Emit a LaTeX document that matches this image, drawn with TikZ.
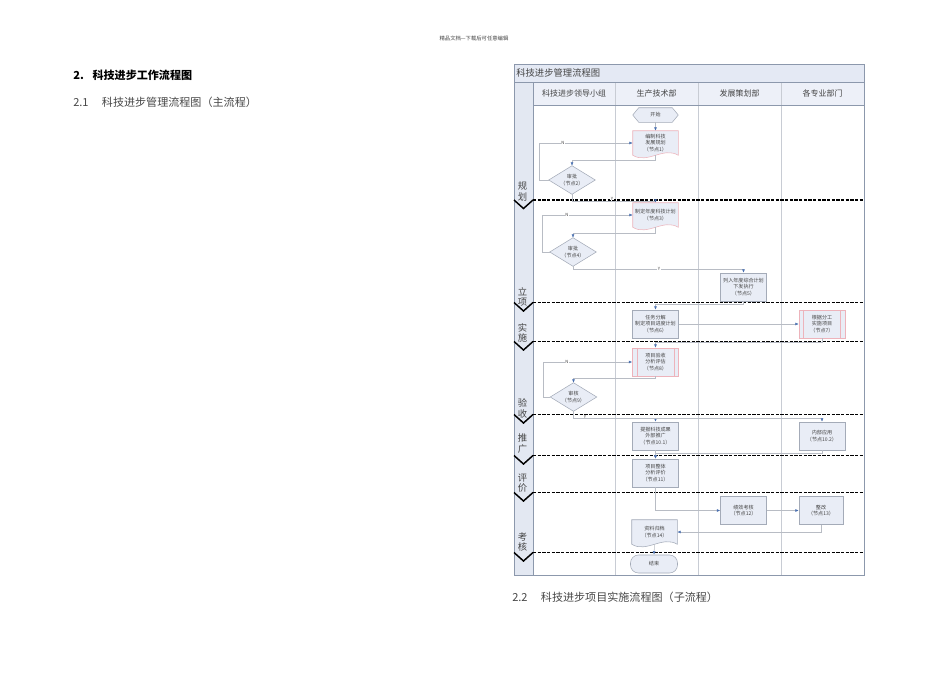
\documentclass[tikz,border=0pt]{standalone}
\usepackage{fontspec}
\setmainfont{Noto Sans CJK SC}
\usetikzlibrary{arrows.meta,calc}
\pgfdeclarelayer{bg}\pgfdeclarelayer{mid}
\pgfsetlayers{bg,mid,main}
\definecolor{framecol}{HTML}{8C98AC}
\definecolor{titlefill}{HTML}{E4E9F4}
\definecolor{headfill}{HTML}{EDF0F8}
\definecolor{lanefill}{HTML}{E3E8F2}
\definecolor{colline}{HTML}{C8CCD4}
\definecolor{nodefill}{HTML}{E9EDF6}
\definecolor{nodeline}{HTML}{A4ABB8}
\definecolor{pinkline}{HTML}{EDB3BB}
\definecolor{connline}{HTML}{B8BCC4}
\definecolor{tipblue}{HTML}{4A70B0}
\definecolor{txtgray}{HTML}{444444}
\tikzset{
 procbox/.style={draw=nodeline,fill=nodefill,line width=0.4pt,minimum width=34.5pt,minimum height=21pt,inner sep=0pt,align=center,font=\fontsize{3.8}{4.8}\selectfont,text=txtgray},
 shapebox/.style={draw=none,fill=none,minimum width=34.5pt,minimum height=21pt,inner sep=0pt,align=center,font=\fontsize{3.8}{4.8}\selectfont,text=txtgray},
 conn/.style={draw=connline,line width=0.4pt,-{Latex[length=2.6pt,width=2.2pt,color=tipblue]}},
 yn/.style={font=\fontsize{3.2}{3.5}\selectfont,text=txtgray,fill=white,inner sep=0.3pt},
 sepline/.style={line width=1.3pt,dash pattern=on 2.4pt off 1.1pt},
 chev/.style={line width=1.1pt},
 phase/.style={font=\fontsize{7}{8}\selectfont,text=txtgray,inner sep=0pt,align=center},
 colhead/.style={font=\fontsize{6}{7}\selectfont,text=txtgray,inner sep=0pt},
 outl/.style={fill=nodefill,line width=0.4pt},
}
\newcommand\docshape[2]{\begin{pgfonlayer}{mid}\filldraw[outl,draw=#2] (#1.north west) -- (#1.north east) -- (#1.south east) .. controls ($(#1.south east)+(-15,-9)$) and ($(#1.south west)+(15,9)$) .. (#1.south west) -- cycle;\end{pgfonlayer}}
\newcommand\hexshape[1]{\begin{pgfonlayer}{mid}\filldraw[outl,draw=nodeline] ($(#1.north west)+(6,0)$) -- ($(#1.north east)+(-6,0)$) -- (#1.east) -- ($(#1.south east)+(-6,0)$) -- ($(#1.south west)+(6,0)$) -- (#1.west) -- cycle;\end{pgfonlayer}}
\newcommand\diashape[1]{\begin{pgfonlayer}{mid}\filldraw[outl,draw=nodeline] (#1.north) -- (#1.east) -- (#1.south) -- (#1.west) -- cycle;\end{pgfonlayer}}
\newcommand\predlines[1]{\draw[pinkline,line width=0.4pt] ($(#1.north west)+(5,0)$) -- ($(#1.south west)+(5,0)$) ($(#1.north east)+(-5,0)$) -- ($(#1.south east)+(-5,0)$);}
\begin{document}
\begin{tikzpicture}[x=0.75pt,y=-0.75pt]
\useasboundingbox (0,0) rectangle (950,672);
\begin{pgfonlayer}{bg}
\fill[white] (0,0) rectangle (950,672);
\fill[titlefill] (514,64) rectangle (864,82);
\fill[headfill] (533,82) rectangle (864,105);
\fill[lanefill] (514,82) rectangle (533,575);
\foreach \x in {615,698,781} \draw[colline,line width=0.4pt] (\x,82) -- (\x,575);
\draw[framecol,line width=0.5pt] (514,82) -- (864,82);
\draw[framecol,line width=0.5pt] (533,105) -- (864,105);
\draw[framecol,line width=0.5pt] (533,82) -- (533,575);
\draw[framecol,line width=0.6pt] (514,64) rectangle (864,575);
\foreach \y in {200,302.5,341.5,414.5,455.5,492.5,552.5} {
 \draw[sepline] (533,\y) -- (864,\y);
 \draw[chev] (514,\y) -- (523.5,\y+8.5) -- (533,\y);
}
\end{pgfonlayer}
% page texts
\node[font=\fontsize{4}{5}\selectfont,text=txtgray,inner sep=0pt] (hdr) at (474,38) {精品文档---下载后可任意编辑};
\node[anchor=west,inner sep=0pt,font=\bfseries\fontsize{8.3}{10}\selectfont] (h2) at (73,75) {2.\hspace{6.5pt}科技进步工作流程图};
\node[anchor=west,inner sep=0pt,font=\fontsize{8.3}{10}\selectfont,text=black!72] (h21) at (73,102.5) {2.1\hspace{10pt}科技进步管理流程图（主流程）};
\node[anchor=west,inner sep=0pt,font=\fontsize{8.3}{10}\selectfont,text=black!72] (h22) at (512,597.5) {2.2\hspace{10pt}科技进步项目实施流程图（子流程）};
% lane texts
\node[anchor=west,inner sep=0pt,font=\fontsize{7}{8}\selectfont,text=txtgray] (ttl) at (516,73) {科技进步管理流程图};
\node[colhead] (c1) at (574,93.5) {科技进步领导小组};
\node[colhead] (c2) at (656.5,93.5) {生产技术部};
\node[colhead] (c3) at (739.5,93.5) {发展策划部};
\node[colhead] (c4) at (822.5,93.5) {各专业部门};
\node[phase] (p1) at (522.5,191.5) {规\\划};
\node[phase] (p2) at (522.5,297) {立\\项};
\node[phase] (p3) at (522.5,333) {实\\施};
\node[phase] (p4) at (522.5,408.7) {验\\收};
\node[phase] (p5) at (522.5,443.5) {推\\广};
\node[phase] (p6) at (522.5,483) {评\\价};
\node[phase] (p7) at (522.5,542) {考\\核};
% flow nodes
\node[shapebox,minimum width=33.75pt,minimum height=10.5pt] (start) at (655.5,115) {开始};
\hexshape{start}
\node[shapebox,minimum width=33.75pt,minimum height=18pt] (n1) at (655.5,143) {编制科技\\发展规划\\（节点1）};
\docshape{n1}{pinkline}
\node[shapebox] (d2) at (572,180) {审批\\（节点2）};
\diashape{d2}
\node[shapebox,minimum width=33.75pt,minimum height=18pt] (n3) at (655.5,215) {制定年度科技计划\\（节点3）};
\docshape{n3}{pinkline}
\node[shapebox] (d4) at (573,252) {审批\\（节点4）};
\diashape{d4}
\node[procbox] (n5) at (743.5,287) {列入年度综合计划\\下发执行\\（节点5）};
\node[procbox] (n6) at (655.5,324) {任务分解\\制定项目进度计划\\（节点6）};
\node[procbox,draw=pinkline] (n7) at (822,324) {根据分工\\实施项目\\（节点7）};
\predlines{n7}
\node[procbox,draw=pinkline] (n8) at (655.5,362) {项目验收\\分析评估\\（节点8）};
\predlines{n8}
\node[shapebox] (d9) at (573.5,397) {审核\\（节点9）};
\diashape{d9}
\node[procbox] (n101) at (655.5,436) {提报科技成果\\外部推广\\（节点10.1）};
\node[procbox] (n102) at (822,436) {内部应用\\（节点10.2）};
\node[procbox] (n11) at (655.5,473) {项目整体\\分析评价\\（节点11）};
\node[procbox] (n12) at (743.5,510.5) {绩效考核\\（节点12）};
\node[procbox,minimum width=33pt] (n13) at (821,510.5) {整改\\（节点13）};
\node[shapebox,minimum width=33.75pt,minimum height=18pt] (n14) at (654.5,532) {资料归档\\（节点14）};
\docshape{n14}{nodeline}
\node[procbox,rounded corners=6pt,minimum width=35.25pt,minimum height=13.5pt] (stop) at (654,564) {结束};
% connectors
\draw[conn] (start.south) -- (n1.north);
\draw[conn] (n1.south) -- ++(0,5) -| (d2.north);
\draw[conn] (d2.west) -- ++(-9,0) |- (n1.west);
\draw[conn] (d2.south) -- ++(0,7) -| (n3.north);
\draw[conn] (n3.south) -- ++(0,6) -| (d4.north);
\draw[conn] (d4.west) -- ++(-7,0) |- (n3.west);
\draw[conn] (d4.south) -- ++(0,3) -| (n5.north);
\draw[conn] (n5.south) -- ++(0,2.5) -| (n6.north);
\draw[conn] (n6.east) -- (n7.west);
\draw[conn] (n7.south) -- ++(0,4) -| (n8.north);
\draw[conn] (n8.south) -- ++(0,2) -| (d9.north);
\draw[conn] (d9.west) -- ++(-7,0) |- (n8.west);
\draw[conn] (d9.south) -- ++(0,6.5) -| (n101.north);
\draw[conn] (d9.south) -- ++(0,6.5) -| (n102.north);
\draw[conn] (n101.south) -- (n11.north);
\draw[conn] (n102.south) -- ++(0,2.5) -| (n11.north);
\draw[conn] (n11.south) |- (n12.west);
\draw[conn] (n12.east) -- (n13.west);
\draw[conn] (n13.south) |- (n14.east);
\draw[conn] (n14.south) -- (stop.north);
% Y / N labels
\node[yn] (yn1) at (563,143) {N};
\node[yn] (yn2) at (612,198.5) {Y};
\node[yn] (yn3) at (567,215) {N};
\node[yn] (yn4) at (659,269) {Y};
\node[yn] (yn5) at (567,362) {N};
\node[yn] (yn6) at (585,416.5) {Y};
\end{tikzpicture}
\end{document}
